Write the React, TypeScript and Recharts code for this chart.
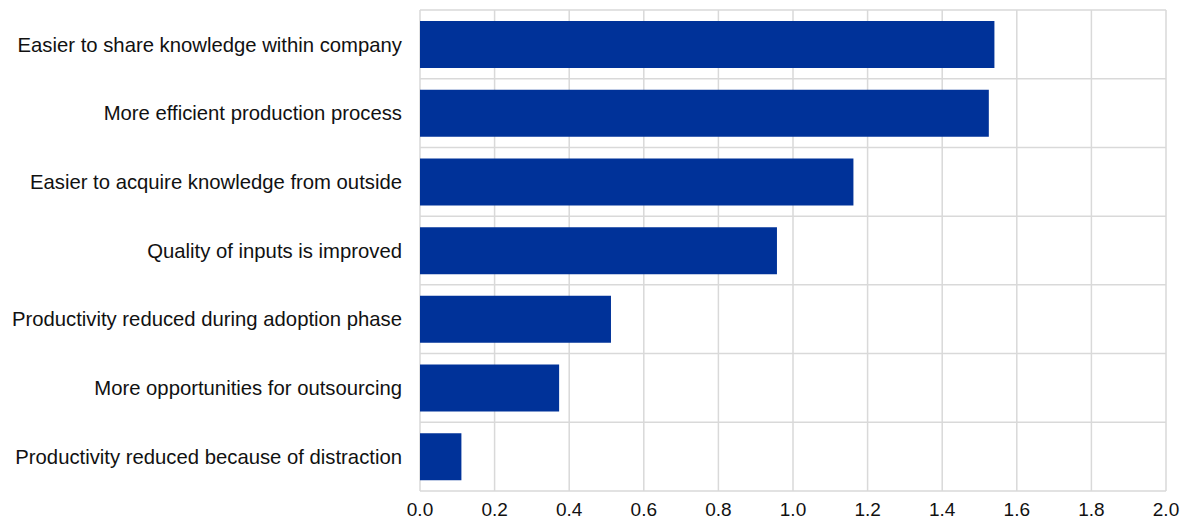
import { Bar, BarChart, CartesianGrid, XAxis, YAxis } from "recharts"

const categories = [
  "Easier to share knowledge within company",
  "More efficient production process",
  "Easier to acquire knowledge from outside ",
  "Quality of inputs is improved",
  "Productivity reduced during adoption phase",
  "More opportunities for outsourcing ",
  "Productivity reduced because of distraction",
]
const values = [1.54, 1.525, 1.162, 0.957, 0.512, 0.373, 0.111]
const xTicks = [0, 0.2, 0.4, 0.6, 0.8, 1.0, 1.2, 1.4, 1.6, 1.8, 2.0]

const data = categories.map((name, i) => ({ name, value: values[i] }))

const FONT = "'Liberation Sans', Arial, sans-serif"

export default function App() {
  return (
    <div style={{ position: "absolute", left: 0, top: 0, background: "#fff" }}>
      <BarChart
        width={1187}
        height={524}
        data={data}
        layout="vertical"
        margin={{ top: 10, right: 21, left: 0, bottom: 0 }}
        barCategoryGap={11}
      >
        <CartesianGrid
          stroke="#d9d9d9"
          strokeWidth={1.5}
          horizontalCoordinatesGenerator={({ offset }: any) =>
            categories.map((_, i) => offset.top + (i * offset.height) / categories.length).concat(offset.top + offset.height)
          }
        />
        <XAxis
          type="number"
          domain={[0, 2]}
          ticks={xTicks}
          tickFormatter={(v: number) => v.toFixed(1)}
          axisLine={false}
          tickLine={false}
          tickSize={0}
          tickMargin={12}
          height={33}
          tick={{ fontSize: 19, fill: "#111", fontFamily: FONT }}
        />
        <YAxis
          type="category"
          dataKey="name"
          width={420}
          axisLine={false}
          tickLine={false}
          tickSize={0}
          tickMargin={18}
          interval={0}
          tick={{ fontSize: 20.3, fill: "#111", fontFamily: FONT }}
        />
        <Bar dataKey="value" fill="#003299" isAnimationActive={false} />
      </BarChart>
    </div>
  )
}
